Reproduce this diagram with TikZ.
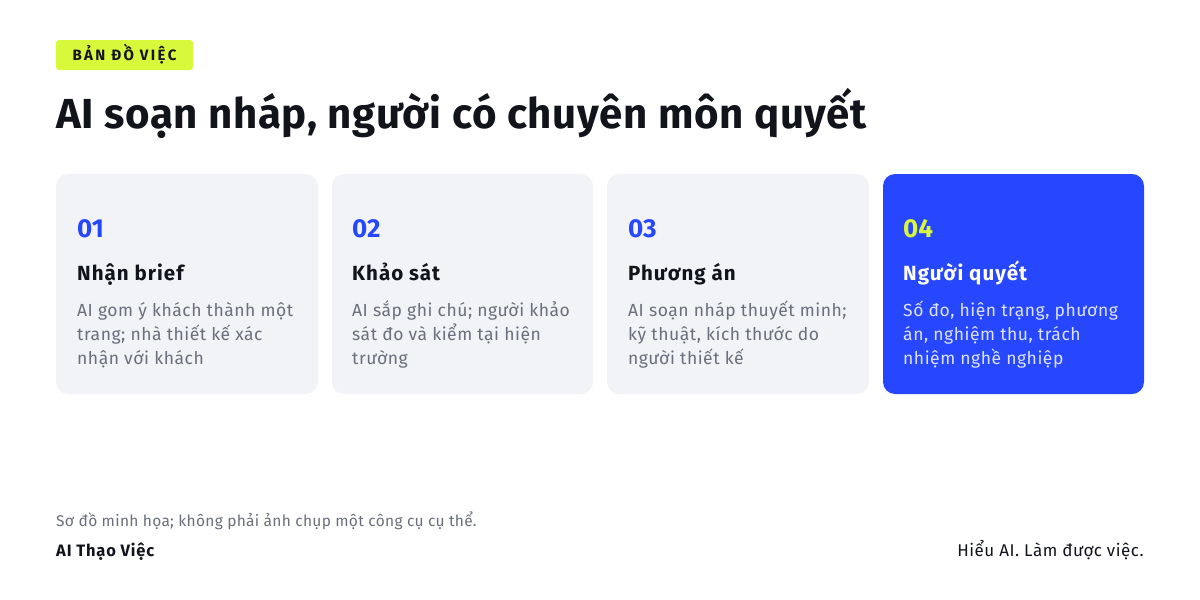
\documentclass[tikz,border=0pt]{standalone}
\usepackage{fontspec}
\setmainfont{Fira Sans}
\definecolor{brandblue}{HTML}{2747FF}
\definecolor{lime}{HTML}{D8F83C}
\definecolor{ink}{HTML}{12141C}
\definecolor{muted}{HTML}{6B6F7B}
\definecolor{cardbg}{HTML}{F2F3F7}
\definecolor{softtext}{HTML}{DCE2FF}
\newcommand{\ls}[1]{\addfontfeature{LetterSpace=#1}}
\begin{document}
\begin{tikzpicture}[x=1pt,y=-1pt,
  card/.style={fill=cardbg,rounded corners=12pt},
  cardhot/.style={fill=brandblue,rounded corners=12pt},
  num/.style={anchor=base west,inner sep=0pt,font=\fontsize{26}{30}\selectfont\bfseries,text=brandblue},
  head/.style={anchor=base west,inner sep=0pt,font=\fontsize{20.5}{24}\selectfont\bfseries\ls{5},text=ink},
  body/.style={anchor=base west,inner sep=0pt,align=left,font=\fontsize{17.5}{24}\selectfont\ls{3},text=muted}]
\useasboundingbox (0,0) rectangle (1200,600);
\fill[white] (0,0) rectangle (1200,600);
% tag
\fill[lime,rounded corners=3pt] (56,40) rectangle (193,70);
\node[anchor=base,inner sep=0pt,font=\fontsize{15}{16}\selectfont\bfseries\ls{16},text=ink] (tag) at (124.5,60.5) {BẢN ĐỒ VIỆC};
% title
\node[anchor=base west,inner sep=0pt,font=\fontsize{42}{46}\selectfont\bfseries\ls{1.5},text=ink] (title) at (56,128) {AI soạn nháp, người có chuyên môn quyết};
% cards
\fill[card] (56,174) rectangle (318,394);
\fill[card] (332,174) rectangle (593,394);
\fill[card] (607,174) rectangle (869,394);
\fill[cardhot] (883,174) rectangle (1144,394);
% card 1
\node[num] (n1) at (77,237) {01};
\node[head] (h1) at (77,280) {Nhận brief};
\node[body] (b1) at (77,364) {AI gom ý khách thành một\\trang; nhà thiết kế xác\\nhận với khách};
% card 2
\node[num] (n2) at (352,237) {02};
\node[head] (h2) at (352,280) {Khảo sát};
\node[body] (b2) at (352,364) {AI sắp ghi chú; người khảo\\sát đo và kiểm tại hiện\\trường};
% card 3
\node[num] (n3) at (628,237) {03};
\node[head] (h3) at (628,280) {Phương án};
\node[body] (b3) at (628,364) {AI soạn nháp thuyết minh;\\kỹ thuật, kích thước do\\người thiết kế};
% card 4
\node[num,text=lime] (n4) at (903,237) {04};
\node[head,text=white] (h4) at (903,280) {Người quyết};
\node[body,text=softtext] (b4) at (903,364) {Số đo, hiện trạng, phương\\án, nghiệm thu, trách\\nhiệm nghề nghiệp};
% footer
\node[anchor=base west,inner sep=0pt,font=\fontsize{15.5}{16}\selectfont\ls{2},text=muted] (note) at (56,526) {Sơ đồ minh họa; không phải ảnh chụp một công cụ cụ thể.};
\node[anchor=base west,inner sep=0pt,font=\fontsize{16.5}{18}\selectfont\bfseries\ls{5},text=ink] (brand) at (56,556) {AI Thạo Việc};
\node[anchor=base east,inner sep=0pt,font=\fontsize{17}{18}\selectfont\ls{3},text=ink] (slogan) at (1144,556) {Hiểu AI. Làm được việc.};
\end{tikzpicture}
\end{document}
